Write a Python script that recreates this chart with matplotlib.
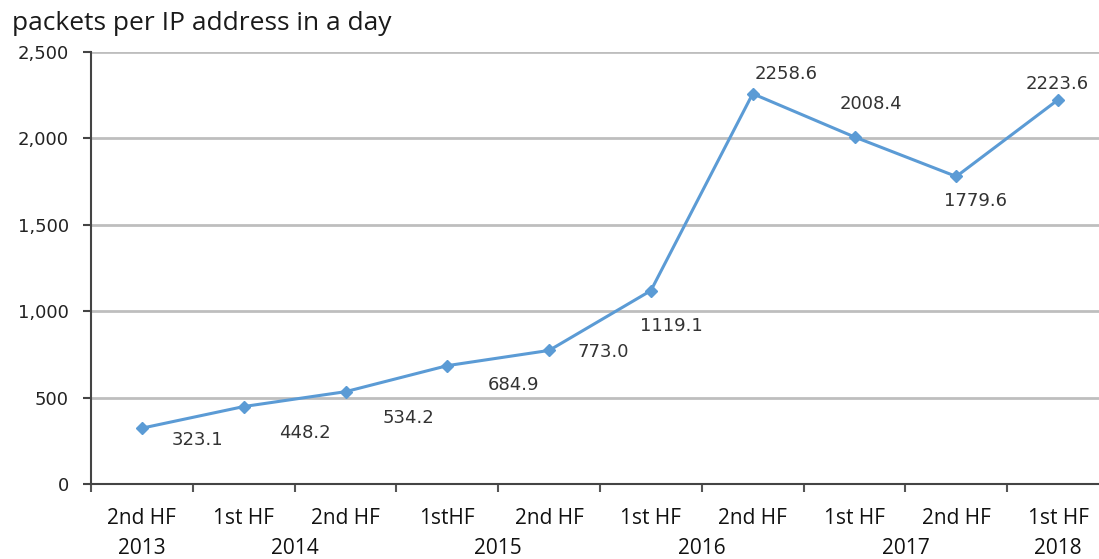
import matplotlib.pyplot as plt
from matplotlib.transforms import blended_transform_factory

halves = ["2nd HF", "1st HF", "2nd HF", "1stHF", "2nd HF",
          "1st HF", "2nd HF", "1st HF", "2nd HF", "1st HF"]
years = ["2013", "2014", "2015", "2016", "2017", "2018"]
year_groups = [[0], [1, 2], [3, 4], [5, 6], [7, 8], [9]]
values = [323.1, 448.2, 534.2, 684.9, 773.0, 1119.1, 2258.6, 2008.4, 1779.6, 2223.6]

# label offsets in pixels (dx right, dy down) as placed in the original
offsets = [(56, 12), (61, 26), (63, 26), (66, 19), (54, 2),
           (20, 35), (33, -20), (16, -33), (19, 25), (-1, -16)]

W, H = 1099, 559
fig = plt.figure(figsize=(W / 100, H / 100), dpi=100)
# axes runs past the right edge, as in the cropped original
ax = fig.add_axes([91 / W, (H - 484) / H, 1018 / W, 432 / H])

line_col = "#5B9BD5"
x = list(range(len(values)))
ax.plot(x, values, color=line_col, lw=2.2, marker="D", ms=6.5, zorder=3, clip_on=False)

ax.set_xlim(-0.5, 9.5)
ax.set_ylim(0, 2500)
ax.set_yticks(range(0, 2501, 500))
ax.set_yticklabels([f"{v:,}" for v in range(0, 2501, 500)],
                   fontsize=13, family="DejaVu Sans", color="#222222")
ax.yaxis.grid(True, color="#BEBEBE", lw=2)
ax.set_axisbelow(True)

ax.set_xticks([i - 0.5 for i in range(len(values) + 1)])
ax.set_xticklabels([])
ax.tick_params(axis="x", length=6, width=1.5, color="#555555", direction="out")
ax.tick_params(axis="y", length=6, width=1.5, color="#444444", direction="out", pad=10)

for s in ["top", "right"]:
    ax.spines[s].set_visible(False)
for s in ["left", "bottom"]:
    ax.spines[s].set_color("#444444")
    ax.spines[s].set_linewidth(1.5)

trans = blended_transform_factory(ax.transData, fig.transFigure)
for i, lab in enumerate(halves):
    ax.text(i, 1 - 518 / H, lab, transform=trans, ha="center", va="center",
            fontsize=15, family="Open Sans", color="#111111")
for yr, grp in zip(years, year_groups):
    ax.text(sum(grp) / len(grp), 1 - 548 / H, yr, transform=trans, ha="center",
            va="center", fontsize=15, family="Open Sans", color="#111111")

for i, v in enumerate(values):
    dx, dy = offsets[i]
    ax.annotate(f"{v:.1f}", (i, v), xytext=(dx * 0.72, -dy * 0.72),
                textcoords="offset points", ha="center", va="center",
                fontsize=13, family="DejaVu Sans", color="#333333")

fig.text(12 / W, 1 - 23 / H, "packets per IP address in a day", ha="left", va="center",
         fontsize=19, family="Open Sans", color="#1a1a1a")

fig.savefig("out.png", dpi=100)
